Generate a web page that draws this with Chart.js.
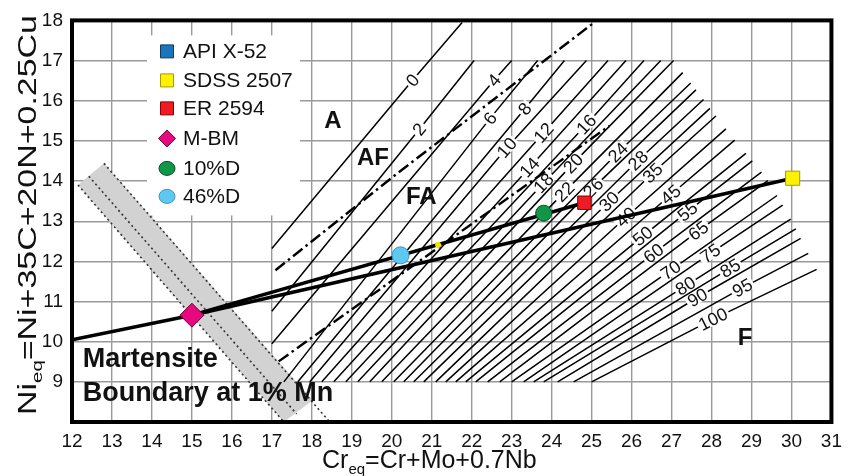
<!DOCTYPE html>
<html><head><meta charset="utf-8">
<script src="https://cdn.jsdelivr.net/npm/chart.js@4.4.1/dist/chart.umd.min.js"></script>
<style>html,body{margin:0;padding:0;background:#fff}canvas{display:block}</style>
</head><body>
<canvas id="c" width="850" height="476"></canvas>
<script>
// ---------- data ----------
const xTicks = [12,13,14,15,16,17,18,19,20,21,22,23,24,25,26,27,28,29,30,31];
const yTicks = [9,10,11,12,13,14,15,16,17,18];

const fnValues = [0,2,4,6,8,10,12,14,16,18,20,22,24,26,28,30,35,40,45,50,55,60,65,70,75,80,85,90,95,100];
const fnStart = [[17,12.32],[17,10.76],[17,9.95],[17.3,9],[17.65,9],[17.95,9],[18.25,9],[18.55,9],[18.85,9],[19.15,9],[19.45,9],[19.75,9],[20.05,9],[20.3,9],[20.55,9],[20.8,9],[21.1,9],[21.35,9],[21.6,9],[21.85,9],[22.1,9],[22.4,9],[22.7,9],[23.0,9],[23.3,9],[23.55,9],[23.8,9],[24.15,9],[24.55,9],[25.0,9]];
const fnLabelAt = [[20.52,16.51],[20.69,15.29],[22.56,16.51],[22.46,15.56],[23.33,15.80],[22.88,14.83],[23.80,15.20],[23.45,14.34],[24.87,15.41],[23.80,13.95],[24.54,14.44],[24.32,13.73],[25.66,14.71],[25.04,13.83],[26.16,14.51],[25.44,13.49],[26.53,14.20],[25.86,13.10],[26.98,13.66],[26.28,12.63],[27.40,13.24],[26.55,12.20],[27.67,12.76],[26.98,11.78],[27.97,12.20],[27.35,11.39],[28.47,11.83],[27.65,11.10],[28.77,11.34],[28.04,10.56]];
const fnEnd = [[21.76,17.95],[22.06,17],[23.0,17],[23.65,17],[24.32,17],[24.87,17],[25.41,17],[25.86,17],[26.31,17],[26.73,17],[27.05,17],[27.28,16.70],[27.48,16.44],[27.61,16.27],[27.80,16.03],[27.96,15.81],[28.11,15.62],[28.36,15.30],[28.58,15.02],[28.86,14.69],[29.02,14.50],[29.25,14.22],[29.41,14.01],[29.64,13.64],[29.78,13.40],[29.98,13.05],[30.11,12.81],[30.23,12.57],[30.42,12.20],[30.63,11.80]];

const boundaryAFFA = [[17.09,11.78],[20.15,14.20],[25.04,17.93]];
const boundaryFAF = [[17.17,9.51],[25.44,15.37]];

const martensiteBand = [[12.15,13.90],[12.80,14.44],[18.02,8.54],[17.30,8.0],[12.15,13.90]];
const martensiteDotA = [[12.15,13.90],[17.30,8.0]];
const martensiteDotB = [[12.42,14.12],[17.62,8.2]];
const martensiteDotC = [[12.80,14.44],[18.45,8.0]];

const sampleNames = ['API X-52','SDSS 2507','ER 2594','M-BM','10%D','46%D'];
const sampleCr = [null,30.03,24.82,15.00,23.80,20.22];
const sampleNi = [null,14.07,13.46,10.66,13.20,12.15];
const extraPoint = [[21.16,12.41]];
const dilutionStart = [[12,10.05]];

// ---------- styles ----------
const FONT = '"Liberation Sans", Arial, Helvetica, sans-serif';
const sampleStyle = [
  {ps:'rect', r:9.5, bg:'#1b75bb', bd:'#0d3d66'},
  {ps:'rect', r:10, bg:'#fff200', bd:'#a69a00'},
  {ps:'rect', r:9.5, bg:'#ee1c25', bd:'#8a0000'},
  {ps:'rectRot', r:12, bg:'#e5087e', bd:'#6d0038'},
  {ps:'circle', r:8, bg:'#0f9647', bd:'#0a4d25'},
  {ps:'circle', r:8.5, bg:'#5ec9f0', bd:'#3b97bd'}
];

const P = a => a.map(([x,y]) => ({x,y}));
const S = i => ({x: sampleCr[i], y: sampleNi[i]});

const datasets = [];
sampleNames.forEach((n,i)=>{
  if (sampleCr[i]===null) return;
  const st = sampleStyle[i];
  datasets.push({label:n, data:[S(i)], showLine:false, pointStyle:st.ps, pointRadius:st.r,
    pointBackgroundColor:st.bg, pointBorderColor:st.bd, pointBorderWidth:1, order:0});
});
datasets.push({label:'x', data:P(extraPoint), showLine:false, pointStyle:'star', pointRadius:3,
  pointBorderColor:'#f2e200', pointBorderWidth:2, order:0});
datasets.push({data:[...P(dilutionStart), S(3)], borderColor:'#000', borderWidth:3.5, pointRadius:0, order:1});
datasets.push({data:[S(3), S(2)], borderColor:'#000', borderWidth:3.5, pointRadius:0, order:1});
datasets.push({data:[S(3), S(1)], borderColor:'#000', borderWidth:3.5, pointRadius:0, order:1});
datasets.push({data:P(boundaryAFFA), borderColor:'#000', borderWidth:2.4, borderDash:[12,4,2.5,4], pointRadius:0, order:2});
datasets.push({data:P(boundaryFAF), borderColor:'#000', borderWidth:2.4, borderDash:[12,4,2.5,4], pointRadius:0, order:2});
const fnFirstIndex = datasets.length;
fnValues.forEach((v,i)=>{
  datasets.push({data:P([fnStart[i], fnLabelAt[i], fnEnd[i]]), borderColor:'#000', borderWidth:1.5, pointRadius:0, order:3});
});
datasets.push({data:P(martensiteDotA), borderColor:'#333', borderWidth:1.6, borderDash:[2,3], pointRadius:0, order:4});
datasets.push({data:P(martensiteDotB), borderColor:'#333', borderWidth:1.6, borderDash:[2,3], pointRadius:0, order:4});
datasets.push({data:P(martensiteDotC), borderColor:'#333', borderWidth:1.6, borderDash:[2,3], pointRadius:0, order:4});
datasets.push({data:P(martensiteBand), borderWidth:0, borderColor:'rgba(0,0,0,0)', backgroundColor:'#d2d2d2', fill:'shape', pointRadius:0, order:5});

const annot = {
  regions: [['A',18.53,15.49],['AF',19.53,14.56],['FA',20.74,13.59],['F',28.84,10.07]],
  mart: [['Martensite',12.27,9.56],['Boundary at 1% Mn',12.27,8.71]]
};

function drawMarker(ctx, st, x, y){
  ctx.save();
  ctx.fillStyle = st.bg; ctx.strokeStyle = st.bd; ctx.lineWidth = 1;
  ctx.beginPath();
  if (st.ps==='rect'){ ctx.rect(x-6.5,y-6.5,13,13); }
  else if (st.ps==='rectRot'){ ctx.moveTo(x,y-8.5); ctx.lineTo(x+8.5,y); ctx.lineTo(x,y+8.5); ctx.lineTo(x-8.5,y); ctx.closePath(); }
  else { ctx.ellipse(x,y,8,7,0,0,Math.PI*2); }
  ctx.fill(); ctx.stroke();
  ctx.restore();
}

const deco = {
  id:'deco',
  beforeDatasetsDraw(chart){
    const {ctx, chartArea:a} = chart;
    ctx.save(); ctx.fillStyle='#fff';
    ctx.fillRect(a.left+75, a.top+15, 153, 180);
    ctx.restore();
  },
  afterDatasetDraw(chart, args){
    if (args.index !== fnFirstIndex) return;
    const xs = chart.scales.x, ys = chart.scales.y, ctx = chart.ctx;
    ctx.save();
    ctx.font = '18px ' + FONT;
    ctx.textAlign='center'; ctx.textBaseline='middle';
    fnValues.forEach((v,i)=>{
      const x0 = xs.getPixelForValue(fnStart[i][0]), y0 = ys.getPixelForValue(fnStart[i][1]);
      const x1 = xs.getPixelForValue(fnEnd[i][0]), y1 = ys.getPixelForValue(fnEnd[i][1]);
      const xm = xs.getPixelForValue(fnLabelAt[i][0]), ym = ys.getPixelForValue(fnLabelAt[i][1]);
      const ang = Math.atan2(y1-y0, x1-x0);
      const t = String(v), w = ctx.measureText(t).width;
      ctx.save(); ctx.translate(xm,ym); ctx.rotate(ang);
      ctx.fillStyle='#fff'; ctx.fillRect(-w/2-2,-6,w+4,12);
      ctx.fillStyle='#111'; ctx.fillText(t,0,1);
      ctx.restore();
    });
    ctx.restore();
  },
  afterDatasetsDraw(chart){
    const xs = chart.scales.x, ys = chart.scales.y, ctx = chart.ctx, a = chart.chartArea;
    ctx.save();
    ctx.font = 'bold 24px ' + FONT; ctx.fillStyle='#111';
    ctx.textAlign='center'; ctx.textBaseline='middle';
    annot.regions.forEach(([t,x,y])=> ctx.fillText(t, xs.getPixelForValue(x), ys.getPixelForValue(y)));
    ctx.font = 'bold 27px ' + FONT; ctx.textAlign='left';
    annot.mart.forEach(([t,x,y])=> ctx.fillText(t, xs.getPixelForValue(x), ys.getPixelForValue(y)));
    const rows = [31,60,88,118,148,176];
    ctx.font = '21px ' + FONT; ctx.textBaseline='middle';
    sampleNames.forEach((n,i)=>{
      const y = a.top + rows[i];
      drawMarker(ctx, sampleStyle[i], a.left+95, y);
      ctx.fillStyle='#111';
      ctx.fillText(n, a.left+111, y+1);
    });
    ctx.lineWidth = 4; ctx.strokeStyle='#000';
    ctx.strokeRect(a.left, a.top, a.right-a.left, a.bottom-a.top);
    ctx.restore();
  },
  afterDraw(chart){
    const ctx = chart.ctx, a = chart.chartArea;
    const big = '25px ' + FONT, small = '15px ' + FONT;
    function segs(list){ let w=0; list.forEach(s=>{ctx.font=s[1]; w+=ctx.measureText(s[0]).width;}); return w; }
    function draw(list){ let x=0; list.forEach(s=>{ctx.font=s[1]; ctx.fillText(s[0],x,s[2]); x+=ctx.measureText(s[0]).width;}); }
    ctx.save(); ctx.fillStyle='#111'; ctx.textAlign='left'; ctx.textBaseline='alphabetic';
    const xt = [['Cr',big,0],['eq',small,6],['=Cr+Mo+0.7Nb',big,0]];
    ctx.save(); ctx.translate(a.left+250, a.bottom+46); draw(xt); ctx.restore();
    const yt = [['Ni',big,0],['eq',small,6],['=Ni+35C+20N+0.25Cu',big,0]];
    const w = segs(yt);
    ctx.save(); ctx.translate(36, a.bottom-7); ctx.rotate(-Math.PI/2); ctx.scale(400/w,1); draw(yt); ctx.restore();
    ctx.restore();
  }
};

new Chart(document.getElementById('c'), {
  type:'line',
  data:{datasets},
  options:{
    responsive:false, animation:false, events:[],
    layout:{padding:{left:0,right:13,top:12,bottom:0}},
    plugins:{legend:{display:false}, tooltip:{enabled:false}},
    scales:{
      x:{type:'linear', min:xTicks[0], max:xTicks[xTicks.length-1],
        afterBuildTicks(s){ s.ticks = xTicks.map(v=>({value:v})); },
        ticks:{font:{family:FONT,size:19}, color:'#111', padding:8, maxRotation:0, autoSkip:false},
        grid:{color:'#9a9a9a', lineWidth:1.4, drawTicks:false}, border:{display:false},
        afterFit(s){ s.height = 54; }},
      y:{type:'linear', min:8, max:18,
        afterBuildTicks(s){ s.ticks = [8, ...yTicks].map(v=>({value:v})); },
        ticks:{font:{family:FONT,size:19}, color:'#111', padding:9, callback:v=> yTicks.includes(v)? String(v) : ''},
        grid:{color:'#9a9a9a', lineWidth:1.4, drawTicks:false}, border:{display:false},
        afterFit(s){ s.width = 72; }}
    }
  },
  plugins:[deco]
});
</script>
</body></html>
